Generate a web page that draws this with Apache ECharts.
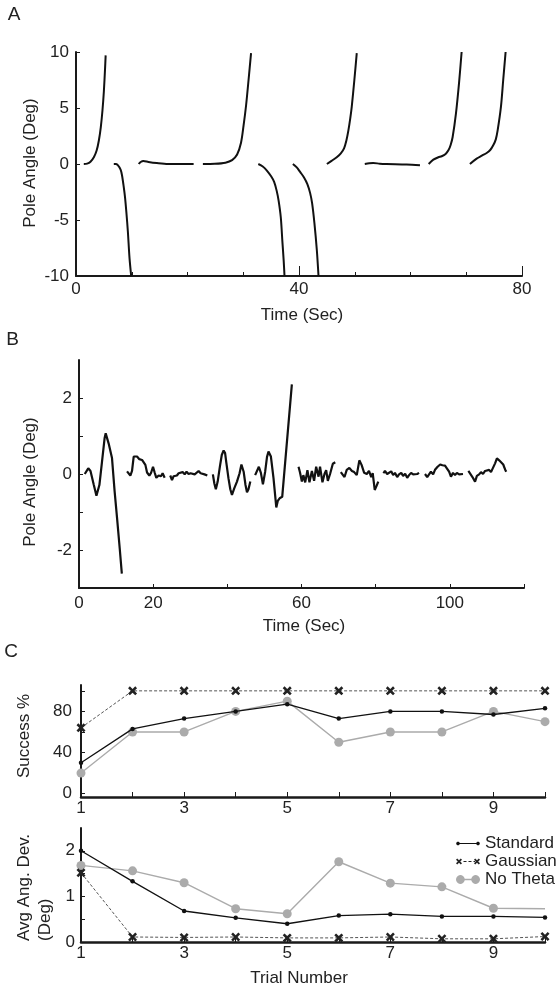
<!DOCTYPE html>
<html><head><meta charset="utf-8">
<script src="https://cdn.jsdelivr.net/npm/echarts@6/dist/echarts.min.js"></script>
<style>html,body{margin:0;padding:0;background:#fff}#c{width:560px;height:989px}</style>
</head><body><div id="c"></div>
<script>
// ---------- Panel A: pole angle (deg) vs time (s), separate trials ----------
const segA1 = [[1.4,0],[2.0,0.03],[2.6,0.2],[3.2,0.6],[3.7,1.2],[4.1,2.1],[4.45,3.3],[4.75,4.8],[5.0,6.5],[5.2,8.4],[5.32,9.7]];
const segA2 = [[6.78,0],[7.1,0],[7.5,-0.1],[8.0,-0.5],[8.25,-1.0],[8.55,-2.0],[8.8,-3.0],[9.05,-4.4],[9.3,-6.0],[9.6,-8.4],[9.9,-10]];
const segA3 = [[11.25,0],[11.6,0.18],[12.1,0.27],[13.0,0.18],[14.5,0.08],[16.5,0],[18.5,0],[21.1,0]];
const segA4 = [[22.76,0],[24.9,0.02],[26.8,0.12],[28.0,0.35],[28.9,0.85],[29.6,1.9],[30.05,3.4],[30.5,5.2],[30.95,7.5],[31.4,9.9]];
const segA5 = [[32.7,0],[33.5,-0.22],[34.2,-0.56],[35.0,-1.1],[35.54,-1.6],[36.0,-2.4],[36.35,-3.3],[36.74,-4.8],[37.03,-7.0],[37.25,-8.6],[37.4,-10]];
const segA6 = [[38.9,0],[39.6,-0.3],[40.2,-0.71],[40.9,-1.2],[41.5,-1.8],[42.0,-2.6],[42.35,-3.5],[42.77,-5.3],[43.2,-7.7],[43.5,-10]];
const segA7 = [[45.0,0],[45.9,0.3],[46.77,0.6],[47.5,0.95],[48.08,1.4],[48.5,2.1],[48.86,3.0],[49.2,4.1],[49.46,5.1],[49.93,7.5],[50.36,9.9]];
const segA8 = [[51.8,0],[52.6,0.06],[53.3,0.09],[54.5,0.03],[55.7,0],[59.3,-0.05],[61.7,-0.12]];
const segA9 = [[63.26,0],[64.1,0.39],[65.0,0.6],[65.6,0.69],[66.3,0.9],[66.8,1.22],[67.2,1.7],[67.56,2.41],[68.15,4.5],[68.7,7.2],[69.17,10]];
const segA10 = [[70.66,0],[71.86,0.48],[72.8,0.75],[73.66,0.98],[74.3,1.25],[74.84,1.67],[75.3,2.2],[75.63,3.0],[76.22,5.1],[76.63,7.5],[77.06,10]];

// ---------- Panel B ----------
const segB1 = [[1.55,0],[2.5,0.15],[3.1,0.08],[4.0,-0.29],[4.7,-0.57],[5.5,-0.29],[6.2,0.32],[6.9,0.94],[7.2,1.07],[8.0,0.8],[8.9,0.42],[9.6,-0.45],[10.3,-1.2],[11.0,-1.98],[11.55,-2.62]];
const segB2 = [[12.95,0.07],[13.4,0.11],[13.85,-0.04],[14.3,0.08],[14.75,0.46],[15.0,0.48],[15.65,0.46],[16.27,0.39],[17.0,0.37],[17.45,0.32],[17.9,0.24],[18.35,0.04],[18.97,-0.04],[19.4,0.02],[19.96,0.19],[20.4,0.04],[20.85,-0.1],[21.48,-0.04],[22.1,-0.06],[22.55,0.02],[23.1,-0.1]];
const segB3 = [[24.6,-0.04],[25.08,-0.16],[25.5,-0.06],[25.97,-0.01],[26.4,-0.04],[26.87,0.02],[27.4,-0.01],[27.95,0.05],[28.5,-0.01],[29.0,0.06],[29.55,0.0],[30.1,0.02],[30.6,0.06],[31.2,-0.01],[31.7,0.04],[32.25,0.08],[32.8,0.02],[33.3,0.04],[33.85,-0.01],[34.6,-0.04]];
const segB4 = [[36.1,-0.01],[36.5,-0.25],[36.9,-0.4],[37.4,-0.2],[38.0,0.2],[38.5,0.5],[39.0,0.62],[39.4,0.55],[39.7,0.32],[40.3,-0.11],[40.8,-0.4],[41.25,-0.55],[41.86,-0.38],[42.6,-0.2],[43.3,0.02],[43.8,0.25],[44.4,0.06],[44.9,-0.29],[45.3,-0.48],[45.7,-0.4],[46.2,-0.2]];
const segB5 = [[47.5,-0.03],[47.98,-0.01],[48.5,0.19],[49.05,0.03],[49.6,-0.27],[50.2,0.06],[50.7,0.45],[51.1,0.59],[51.75,0.46],[52.45,-0.11],[53.2,-0.88],[53.6,-0.71],[54.1,-0.64],[54.8,-0.6],[57.4,2.36]];
const segB6 = [[59.2,0.19],[59.6,0.04],[60.1,-0.2],[60.5,-0.03],[61.0,-0.22],[61.6,0.1],[62.15,-0.22],[62.8,0.08],[63.4,-0.18],[63.95,0.19],[64.6,-0.07],[65.0,0.19],[65.65,-0.22],[66.2,0.0],[66.65,0.1],[67.1,-0.18],[67.7,0.0],[68.45,0.27],[69.1,0.31]];
const segB7 = [[70.6,0.05],[71.0,0.08],[71.6,-0.08],[72.2,0.11],[72.9,0.16],[73.6,0.08],[74.2,0.05],[74.9,-0.03],[75.6,0.36],[76.2,0.24],[76.9,0.03],[77.6,0.0],[78.2,0.08],[78.8,-0.08],[79.2,0.02],[79.75,-0.42],[80.3,-0.3],[80.7,-0.2]];
const segB8 = [[82.1,0.02],[82.5,0.08],[83.1,0.0],[83.6,-0.01],[84.2,0.07],[84.7,-0.03],[85.2,0.03],[85.8,-0.08],[86.3,-0.01],[86.9,0.03],[87.4,-0.05],[87.95,0.01],[88.5,-0.1],[89.0,-0.03],[89.55,0.03],[90.1,-0.01],[90.6,0.03],[91.2,0.0],[91.7,0.03]];
const segB9 = [[93.3,0.0],[93.9,-0.08],[94.4,-0.01],[94.9,0.06],[95.5,-0.01],[96.0,0.11],[96.7,0.19],[97.4,0.25],[98.0,0.23],[98.7,0.22],[99.2,0.15],[99.8,0.06],[100.3,-0.07],[100.85,0.03],[101.4,-0.03],[101.9,0.03],[102.5,-0.01],[103.0,0.03],[103.55,0.0]];
const segB10 = [[105.0,0.08],[105.5,0.03],[106.1,-0.08],[106.8,-0.2],[107.3,-0.05],[107.9,-0.01],[108.4,0.05],[108.95,0.0],[109.5,0.08],[110.0,0.05],[110.6,0.11],[111.1,0.05],[111.6,0.0],[112.2,0.28],[112.7,0.41],[113.3,0.36],[113.8,0.36],[114.4,0.25],[114.9,0.12],[115.2,0.06]];

// ---------- Panel C ----------
const trials = [1,2,3,4,5,6,7,8,9,10];
const successStandard = [30,63,73,80,87,73,80,80,77,83];
const successGaussian = [64,100,100,100,100,100,100,100,100,100];
const successNoTheta  = [20,60,60,80,90,50,60,60,80,70];
const devStandard = [2.0,1.33,0.68,0.53,0.4,0.58,0.61,0.56,0.56,0.54];
const devGaussian = [1.52,0.11,0.1,0.11,0.09,0.09,0.11,0.07,0.07,0.12];
const devNoTheta  = [1.68,1.56,1.3,0.73,0.62,1.76,1.29,1.21,0.74,0.73];

// tick / label lists
const ticksAx = [0,10,20,30,40,50,60,70,80], labelsAx = [0,40,80], majorAx = [40,80];
const ticksAy = [-10,-5,0,5,10], labelsAy = [-10,-5,0,5,10];
const ticksBx = [0,20,40,60,80,100,120], labelsBx = [0,20,60,100];
const ticksBy = [-2,-1,0,1,2], labelsBy = [-2,0,2];
const ticksCx = trials, labelsCx = [1,3,5,7,9];
const ticksC1y = [0,20,40,60,80,100], labelsC1y = [0,40,80];
const ticksC2y = [0,0.5,1,1.5,2], labelsC2y = [0,1,2];

const FF = "'Liberation Sans', Arial, Helvetica, sans-serif";
const TXT = '#222';
const segsA = [segA1,segA2,segA3,segA4,segA5,segA6,segA7,segA8,segA9,segA10];
const segsB = [segB1,segB2,segB3,segB4,segB5,segB6,segB7,segB8,segB9,segB10];

function mkAxis(gridIndex, min, max, ticks, labels, tickLen, margin, lineW, extra) {
  return Object.assign({
    type: 'value', gridIndex, min, max,
    axisLine: { show: true, onZero: false, lineStyle: { color: '#1a1a1a', width: lineW } },
    axisTick: { show: true, inside: true, length: tickLen, customValues: ticks, lineStyle: { color: '#1a1a1a', width: 1 } },
    axisLabel: { show: true, customValues: labels, margin, color: TXT, fontSize: 17, fontFamily: FF },
    splitLine: { show: false }
  }, extra || {});
}

// symbol paths (X mark with thicker arms)
const xSym = 'path://M0,2L2,0L5,3L8,0L10,2L7,5L10,8L8,10L5,7L2,10L0,8L3,5Z';
function rectP(x0,y0,x1,y1){return `M${x0},${y0}L${x1},${y0}L${x1},${y1}L${x0},${y1}Z`;}
function circP(cx,cy,r){let s='';for(let i=0;i<20;i++){const a=i/20*Math.PI*2;s+=(i?'L':'M')+(cx+r*Math.cos(a)).toFixed(3)+','+(cy+r*Math.sin(a)).toFixed(3);}return s+'Z';}
function crossP(cx,cy,r){const k=r/5;const pts=[[0,2],[2,0],[5,3],[8,0],[10,2],[7,5],[10,8],[8,10],[5,7],[2,10],[0,8],[3,5]];return pts.map((p,i)=>(i?'L':'M')+(cx-r+p[0]*k).toFixed(3)+','+(cy-r+p[1]*k).toFixed(3)).join('')+'Z';}
const corners = 'M0,0L0.01,0L0,0.01Z M24,10L23.99,10L24,9.99Z';
const iconStd = 'path://' + corners + rectP(2,4.4,22,5.6) + circP(2,5,1.8) + circP(22,5,1.8);
const iconGau = 'path://' + corners + crossP(3,5,3) + rectP(7.5,4.5,10.5,5.5) + rectP(12.5,4.5,15.5,5.5) + rectP(17.5,4.5,19,5.5) + crossP(21,5,3);
const iconNo = 'path://' + corners + rectP(4,4.3,20,5.7) + circP(4.4,5,4.4) + circP(19.6,5,4.4);

const series = [];
segsA.forEach(s => series.push({ type:'line', xAxisIndex:0, yAxisIndex:0, data:s, showSymbol:false, smooth:0.3,
  lineStyle:{color:'#111', width:2}, silent:true }));
segsB.forEach(s => series.push({ type:'line', xAxisIndex:2, yAxisIndex:1, data:s, showSymbol:false,
  lineStyle:{color:'#111', width:2.2}, silent:true }));

function cSeries(name, xi, yi, vals, kind, lastNoSymbol) {
  const data = trials.map((t,i) => {
    const it = { value: [t, vals[i]] };
    if (lastNoSymbol && i === trials.length - 1) it.symbol = 'none';
    return it;
  });
  const st = {
    std: { symbol:'circle', symbolSize:4.5, color:'#111', line:{color:'#111', width:1.3}, z:4 },
    gau: { symbol:xSym, symbolSize:9, color:'#222', line:{color:'#555', width:1, type:[3,2]}, z:5 },
    no:  { symbol:'circle', symbolSize:9, color:'#ababab', line:{color:'#ababab', width:1.4}, z:3 }
  }[kind];
  return { name, type:'line', xAxisIndex:xi, yAxisIndex:yi, data, symbol:st.symbol, symbolSize:st.symbolSize,
    itemStyle:{color:st.color, borderWidth:0}, lineStyle:st.line, z:st.z, silent:true, emphasis:{disabled:true} };
}
series.push(cSeries('No Theta', 3, 2, successNoTheta, 'no'));
series.push(cSeries('Standard', 3, 2, successStandard, 'std'));
series.push(cSeries('Gaussian', 3, 2, successGaussian, 'gau'));
series.push(cSeries('No Theta', 4, 3, devNoTheta, 'no', true));
series.push(cSeries('Standard', 4, 3, devStandard, 'std'));
series.push(cSeries('Gaussian', 4, 3, devGaussian, 'gau'));

function txt(text, x, y, opts) {
  return Object.assign({ type:'text', x, y, silent:true,
    style: Object.assign({ text, fill: TXT, font: '17px ' + FF, align:'center', verticalAlign:'middle' }, (opts||{}).style || {}) },
    (opts && opts.rotation !== undefined) ? { rotation: opts.rotation } : {});
}
const R = Math.PI / 2;

const option = {
  animation: false,
  backgroundColor: '#fff',
  grid: [
    { left: 76, top: 52, width: 446, height: 224 },
    { left: 79, top: 360, width: 445, height: 228 },
    { left: 81, top: 685, width: 464, height: 112 },
    { left: 81, top: 828, width: 464, height: 114 }
  ],
  xAxis: [
    mkAxis(0, 0, 80, ticksAx, labelsAx, 4, 5, 2),
    mkAxis(0, 0, 80, majorAx, [], 10, 5, 2, { position:'bottom', axisLine:{show:false, onZero:false}, axisLabel:{show:false} }),
    mkAxis(1, 0, 120, ticksBx, labelsBx, 4, 7, 2),
    mkAxis(2, 1, 10, ticksCx, labelsCx, 5, 3, 2.5),
    mkAxis(3, 1, 10, ticksCx, labelsCx, 5, 3, 2.5)
  ],
  yAxis: [
    mkAxis(0, -10, 10, ticksAy, labelsAy, 4, 7, 2),
    mkAxis(1, -3, 3, ticksBy, labelsBy, 4, 7, 2),
    mkAxis(2, -3.3, 105.7, ticksC1y, labelsC1y, 4, 9, 2),
    mkAxis(3, 0, 2.5, ticksC2y, labelsC2y, 4, 6, 2)
  ],
  legend: {
    data: [ { name:'Standard', icon: iconStd }, { name:'Gaussian', icon: iconGau }, { name:'No Theta', icon: iconNo } ],
    orient: 'vertical', left: 456, top: 835, padding: 0, itemWidth: 24, itemHeight: 10, itemGap: 1,
    selectedMode: false, itemStyle: { borderWidth: 0 },
    textStyle: { fontSize: 17, lineHeight: 17, color: TXT, fontFamily: FF }
  },
  graphic: [
    txt('A', 14, 15, { style:{ font:'19px ' + FF } }),
    txt('B', 12.5, 340, { style:{ font:'19px ' + FF } }),
    txt('C', 11, 652, { style:{ font:'19px ' + FF } }),
    txt('Pole Angle (Deg)', 30, 163, { rotation: R }),
    txt('Time (Sec)', 302, 315.5),
    txt('Pole Angle (Deg)', 30, 482, { rotation: R }),
    txt('Time (Sec)', 304, 626),
    txt('Success %', 24, 736, { rotation: R }),
    txt('Avg Ang. Dev.', 24, 941, { rotation: R, style:{ align:'left' } }),
    txt('(Deg)', 45, 941, { rotation: R, style:{ align:'left' } }),
    txt('Trial Number', 299, 978)
  ],
  series
};
const chart = echarts.init(document.getElementById('c'), null, { renderer: 'canvas' });
chart.setOption(option);
</script></body></html>
